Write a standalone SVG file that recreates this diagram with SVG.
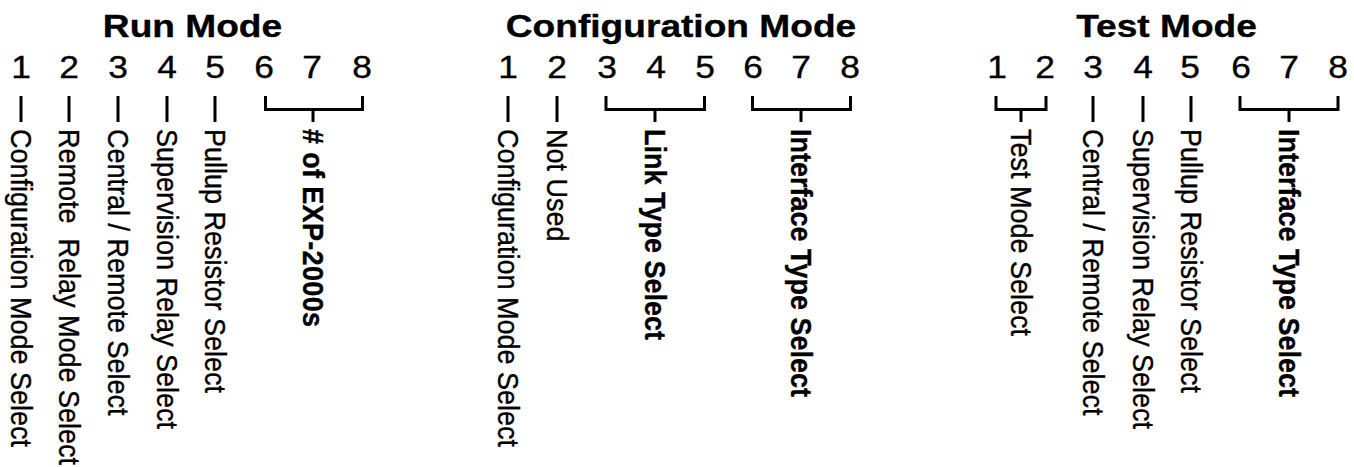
<svg xmlns="http://www.w3.org/2000/svg" width="1354" height="467" viewBox="0 0 1354 467">
<style>
text{font-family:"Liberation Sans",Arial,Helvetica,sans-serif;fill:#000;stroke:#000;stroke-width:0.35px}
.title{font-size:32px;font-weight:bold;text-anchor:middle}
.num{font-size:31px;text-anchor:middle}
.lbl{font-size:27px;white-space:pre}
.b{font-weight:bold}
.ln{stroke:#000;stroke-width:3;fill:none}
</style>
<rect width="1354" height="467" fill="#fff"/>
<g id="connectors" class="ln">
<path d="M21 96V122M69 96V122M118 96V122M167 96V122M215 96V122"/>
<path d="M265.5 96V109.5H362.5V96M313 109.5V122"/>
<path d="M508 96V122M557 96V122"/>
<path d="M606 96V109.5H704.5V96M655 109.5V122"/>
<path d="M752.5 96V109.5H850.5V96M801 109.5V122"/>
<path d="M996 96V109.5H1046V96M1021 109.5V122"/>
<path d="M1093 96V122M1143 96V122M1191 96V122"/>
<path d="M1240 96V109.5H1338V96M1289 109.5V122"/>
</g>
<g id="run-mode">
<text class="title" transform="translate(192.5,37) scale(1.16,1)">Run Mode</text>
<g id="run-digits">
<text class="num" transform="translate(21,78) scale(1.14,1)">1</text>
<text class="num" transform="translate(69,78) scale(1.14,1)">2</text>
<text class="num" transform="translate(118,78) scale(1.14,1)">3</text>
<text class="num" transform="translate(167,78) scale(1.14,1)">4</text>
<text class="num" transform="translate(215,78) scale(1.14,1)">5</text>
<text class="num" transform="translate(264,78) scale(1.14,1)">6</text>
<text class="num" transform="translate(312,78) scale(1.14,1)">7</text>
<text class="num" transform="translate(362,78) scale(1.14,1)">8</text>
</g>
<g id="run-1"><text class="lbl" transform="translate(10.5,129) scale(1.09,1) rotate(90)">Configuration Mode Select</text></g>
<g id="run-2"><text class="lbl" transform="translate(58.5,129) scale(1.09,1) rotate(90)">Remote  Relay Mode Select</text></g>
<g id="run-3"><text class="lbl" transform="translate(107.5,129) scale(1.09,1) rotate(90)">Central / Remote Select</text></g>
<g id="run-4"><text class="lbl" transform="translate(156.5,129) scale(1.09,1) rotate(90)">Supervision Relay Select</text></g>
<g id="run-5"><text class="lbl" transform="translate(204.5,129) scale(1.09,1) rotate(90)">Pullup Resistor Select</text></g>
<g id="run-678"><text class="lbl b" transform="translate(302.5,129) scale(1.09,1) rotate(90)" textLength="198" lengthAdjust="spacing"># of EXP-2000s</text></g>
</g>
<g id="configuration-mode">
<text class="title" transform="translate(681,37) scale(1.16,1)">Configuration Mode</text>
<g id="cfg-digits">
<text class="num" transform="translate(508,78) scale(1.14,1)">1</text>
<text class="num" transform="translate(557,78) scale(1.14,1)">2</text>
<text class="num" transform="translate(607,78) scale(1.14,1)">3</text>
<text class="num" transform="translate(656,78) scale(1.14,1)">4</text>
<text class="num" transform="translate(705,78) scale(1.14,1)">5</text>
<text class="num" transform="translate(753,78) scale(1.14,1)">6</text>
<text class="num" transform="translate(801,78) scale(1.14,1)">7</text>
<text class="num" transform="translate(850,78) scale(1.14,1)">8</text>
</g>
<g id="cfg-1"><text class="lbl" transform="translate(497.5,129) scale(1.09,1) rotate(90)">Configuration Mode Select</text></g>
<g id="cfg-2"><text class="lbl" transform="translate(546.5,129) scale(1.09,1) rotate(90)">Not Used</text></g>
<g id="cfg-345"><text class="lbl b" transform="translate(644.5,129) scale(1.09,1) rotate(90)">Link Type Select</text></g>
<g id="cfg-678"><text class="lbl b" transform="translate(790.5,129) scale(1.09,1) rotate(90)">Interface Type Select</text></g>
</g>
<g id="test-mode">
<text class="title" transform="translate(1166.5,37) scale(1.16,1)">Test Mode</text>
<g id="test-digits">
<text class="num" transform="translate(997,78) scale(1.14,1)">1</text>
<text class="num" transform="translate(1045,78) scale(1.14,1)">2</text>
<text class="num" transform="translate(1093,78) scale(1.14,1)">3</text>
<text class="num" transform="translate(1143,78) scale(1.14,1)">4</text>
<text class="num" transform="translate(1190,78) scale(1.14,1)">5</text>
<text class="num" transform="translate(1241,78) scale(1.14,1)">6</text>
<text class="num" transform="translate(1289,78) scale(1.14,1)">7</text>
<text class="num" transform="translate(1338,78) scale(1.14,1)">8</text>
</g>
<g id="test-12"><text class="lbl" transform="translate(1010.5,129) scale(1.09,1) rotate(90)">Test Mode Select</text></g>
<g id="test-3"><text class="lbl" transform="translate(1082.5,129) scale(1.09,1) rotate(90)">Central / Remote Select</text></g>
<g id="test-4"><text class="lbl" transform="translate(1132.5,129) scale(1.09,1) rotate(90)">Supervision Relay Select</text></g>
<g id="test-5"><text class="lbl" transform="translate(1180.5,129) scale(1.09,1) rotate(90)">Pullup Resistor Select</text></g>
<g id="test-678"><text class="lbl b" transform="translate(1278.5,129) scale(1.09,1) rotate(90)">Interface Type Select</text></g>
</g>
</svg>
